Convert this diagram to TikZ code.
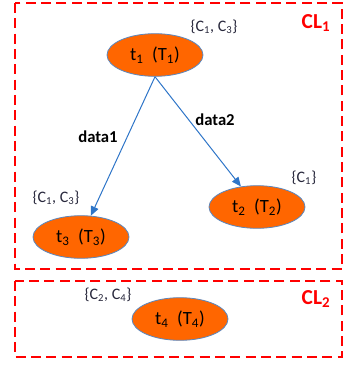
\documentclass[tikz,border=0pt]{standalone}
\usepackage{fontspec}
\setmainfont{Carlito}
\usetikzlibrary{shapes.geometric,arrows.meta}

\definecolor{taskfill}{RGB}{255,102,0}
\definecolor{taskedge}{RGB}{91,135,190}
\definecolor{flowblue}{RGB}{46,117,200}
\definecolor{clred}{RGB}{255,0,0}

\tikzset{every picture/.style={line width=0.75pt}}
\tikzset{
  task/.style={ellipse, draw=taskedge, line width=0.6pt, fill=taskfill, minimum width=72pt, minimum height=32pt, inner sep=0pt, font=\fontsize{14}{16}\selectfont},
  cset/.style={inner sep=0.75pt, font=\fontsize{12}{14}\selectfont, text={rgb,255:red,40;green,40;blue,60}},
  cluster/.style={draw=clred, line width=2.2pt, dash pattern=on 7.5pt off 4pt},
  clname/.style={inner sep=0.75pt, text=clred, font=\bfseries\fontsize{16}{18}\selectfont},
  flow/.style={draw=flowblue, line width=0.75pt, -{Triangle[length=7pt,width=6pt]}},
  flowlabel/.style={inner sep=0.75pt, font=\bfseries\fontsize{12.5}{14}\selectfont}
}

\begin{document}
\begin{tikzpicture}[x=0.75pt,y=0.75pt,yscale=-1,xscale=1]
\useasboundingbox (0,0) rectangle (344,367);

%Shape: Rectangle [id:cl1]
\draw [cluster] (15,3) rectangle (342,269) ;
%Shape: Rectangle [id:cl2]
\draw [cluster] (15,281) rectangle (342,357) ;

%Shape: Ellipse [id:t1]
\node [task] (t1) at (155,55) {t\textsubscript{1}\ \ (T\textsubscript{1})};
%Shape: Ellipse [id:t2]
\node [task] (t2) at (257,207) {t\textsubscript{2}\ \ (T\textsubscript{2})};
%Shape: Ellipse [id:t3]
\node [task] (t3) at (81,237) {t\textsubscript{3}\ \ (T\textsubscript{3})};
%Shape: Ellipse [id:t4]
\node [task] (t4) at (180,319) {t\textsubscript{4}\ \ (T\textsubscript{4})};

%Straight Lines [id:data1]
\draw [flow] (t1.south) -- (t3) ;
%Straight Lines [id:data2]
\draw [flow] (t1.south) -- (t2) ;

% Text Node
\draw (98,137) node [flowlabel] (d1) {data1};
% Text Node
\draw (215,120) node [flowlabel] (d2) {data2};
% Text Node
\draw (214,27) node [cset] (c1) {\{C\textsubscript{1}, C\textsubscript{3}\}};
% Text Node
\draw (304,178) node [cset] (c2) {\{C\textsubscript{1}\}};
% Text Node
\draw (56,198) node [cset] (c3) {\{C\textsubscript{1}, C\textsubscript{3}\}};
% Text Node
\draw (108,295) node [cset] (c4) {\{C\textsubscript{2}, C\textsubscript{4}\}};
% Text Node
\draw (316,23) node [clname] (n1) {CL\textsubscript{1}};
% Text Node
\draw (316,299) node [clname] (n2) {CL\textsubscript{2}};

\end{tikzpicture}
\end{document}
